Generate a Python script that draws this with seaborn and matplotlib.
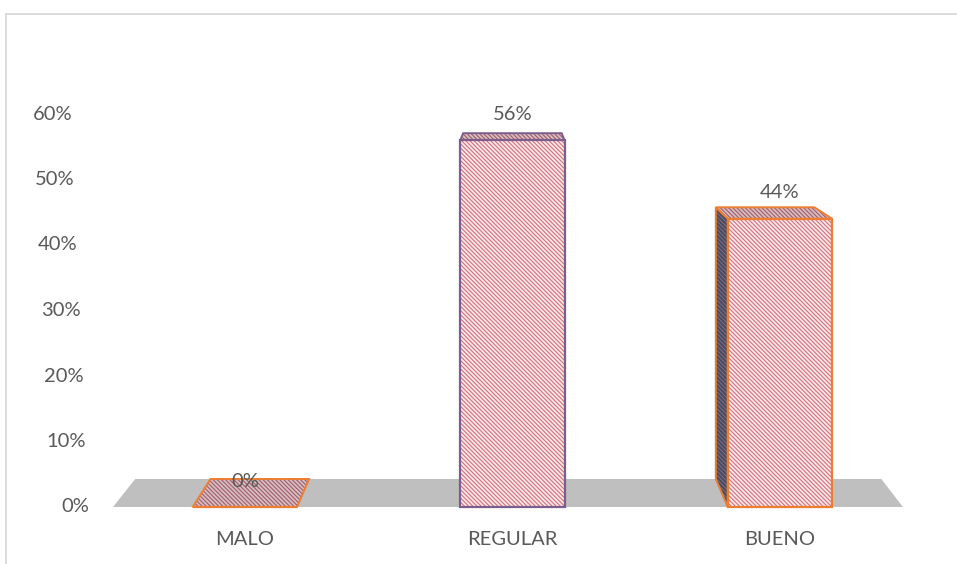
import pandas as pd
import matplotlib.pyplot as plt
import seaborn as sns
from matplotlib.patches import Polygon, Rectangle
from matplotlib.transforms import offset_copy

# datos del grafico
categorias = ['MALO', 'REGULAR', 'BUENO']
valores = [0.00, 0.56, 0.44]
etiquetas = ['0%', '56%', '44%']
ticks_y = [0.0, 0.1, 0.2, 0.3, 0.4, 0.5, 0.6]
ticks_txt = ['0%', '10%', '20%', '30%', '40%', '50%', '60%']
bordes = ['#ed7d31', '#7b5e8e', '#ed7d31']

df = pd.DataFrame({'categoria': categorias, 'valor': valores})

sns.set_style('white')
plt.rcParams['font.family'] = ['Lato', 'DejaVu Sans']
plt.rcParams['hatch.linewidth'] = 0.8
gris = '#595959'
rayas = '\\' * 8

fig = plt.figure(figsize=(9.57, 5.64), dpi=100)
ax = fig.add_axes([113 / 957, 57 / 564, 790 / 957, 393 / 564])

XMIN, XMAX = -0.493, 2.46
PX_X = 790 / (XMAX - XMIN)  # pixeles por unidad x
PX_Y = 393 / 0.6            # pixeles por unidad y


def fondo(x, y):
    # punto trasero de una cara (perspectiva 3d sencilla)
    d = 28 - 37.5 * y
    dx = -(x - 1) * PX_X * 15 / 270
    return (x + dx / PX_X, y + d / PX_Y)


def cara(pts, fc, hc, ec, z):
    # relleno con rayas + contorno aparte
    ax.add_patch(Polygon(pts, closed=True, facecolor=fc, edgecolor=hc,
                         lw=0, hatch=rayas, zorder=z, clip_on=False))
    ax.add_patch(Polygon(pts, closed=True, fill=False, edgecolor=ec,
                         lw=1.4, zorder=z + 0.1, clip_on=False))


# barras frontales
sns.barplot(data=df, x='categoria', y='valor', color='#fde8e8', saturation=1,
            width=0.39, edgecolor='#d46f7e', linewidth=0, hatch=rayas,
            ax=ax, zorder=3)

ax.set_xlim(XMIN, XMAX)
ax.set_ylim(0, 0.6)

# piso gris
piso = [(XMIN, 0), (XMAX, 0), fondo(XMAX, 0), fondo(XMIN, 0)]
ax.add_patch(Polygon(piso, closed=True, facecolor='#bfbfbf', edgecolor='none',
                     zorder=1, clip_on=False))

for i, p in enumerate(list(ax.patches)[:len(categorias)]):
    p.set_clip_on(False)
    x0 = p.get_x()
    x1 = x0 + p.get_width()
    h = p.get_height()

    # cara superior
    top = [(x0, h), (x1, h), fondo(x1, h), fondo(x0, h)]
    cara(top, '#d2c0c3', '#a85868', bordes[i], 2)

    # caras laterales visibles
    if h > 0 and fondo(x0, h)[0] < x0:
        lado = [(x0, 0), (x0, h), fondo(x0, h), fondo(x0, 0)]
        cara(lado, '#484a5c', '#7a6c82', bordes[i], 2)
    if h > 0 and fondo(x1, h)[0] > x1:
        lado = [(x1, 0), (x1, h), fondo(x1, h), fondo(x1, 0)]
        cara(lado, '#484a5c', '#7a6c82', bordes[i], 2)

    # contorno frontal
    ax.add_patch(Rectangle((x0, 0), x1 - x0, h, fill=False, edgecolor=bordes[i],
                           lw=1.6, zorder=4, clip_on=False))

    # etiqueta de valor
    ax.annotate(etiquetas[i], ((x0 + x1) / 2, h), xytext=(0, 12.5),
                textcoords='offset points', ha='center', va='bottom',
                fontsize=14.5, color=gris, zorder=6)

# etiquetas del eje y (desplazadas por la perspectiva)
ax.set_yticks(ticks_y)
ax.set_yticklabels([])
for t, s in zip(ticks_y, ticks_txt):
    dx = -(41 - 17 * (0.6 - t) / 0.6) * 0.72
    tr = offset_copy(ax.get_yaxis_transform(), fig=fig, x=dx, y=0, units='points')
    ax.text(0, t, s, transform=tr, ha='right', va='center',
            fontsize=14.5, color=gris)

ax.set_xlabel('')
ax.set_ylabel('')
ax.tick_params(axis='x', length=0, pad=17, labelsize=14.5, labelcolor=gris)
ax.tick_params(axis='y', length=0)
sns.despine(ax=ax, left=True, bottom=True)

# borde del area del grafico
fig.add_artist(Rectangle((5.5 / 957, -0.05), 1.2, (564 - 13.5) / 564 + 0.05,
                         transform=fig.transFigure, fill=False,
                         edgecolor='#d9d9d9', lw=1.3))

plt.savefig('out.png', dpi=100)
